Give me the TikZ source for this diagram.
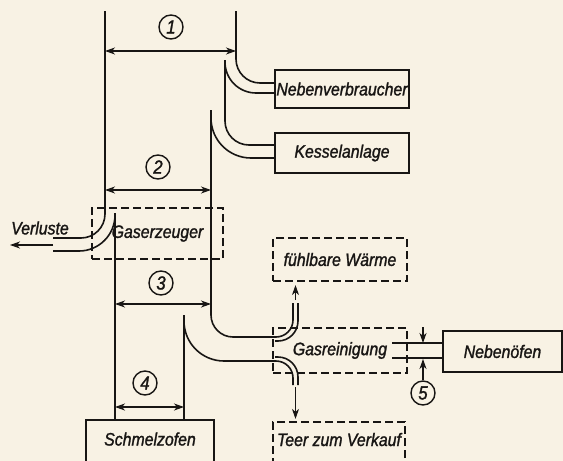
\documentclass[tikz,border=0pt]{standalone}
\usepackage{fontspec}
\setmainfont{Liberation Sans}[FakeStretch=0.88,FakeBold=1.4]
\usetikzlibrary{arrows.meta,positioning,calc}
\definecolor{paper}{RGB}{248,242,228}
\definecolor{ink}{RGB}{24,22,20}

\begin{document}
\begin{tikzpicture}[
    x=1pt, y=-1pt,
    lbl/.style={font=\itshape\fontsize{18}{18}\selectfont, text=ink},
    plantbox/.style={lbl, rectangle, draw=ink, line width=2.2pt, minimum width=134pt,
                 minimum height=40pt, inner sep=0pt},
    dashbox/.style={plantbox, dash pattern=on 8pt off 4pt},
    flowline/.style={draw=ink, line width=1.6pt},
    dimarr/.style={draw=ink, line width=1.1pt, {Stealth[length=10pt,width=7pt,inset=3pt]}-{Stealth[length=10pt,width=7pt,inset=3pt]}},
    outarr/.style={draw=ink, line width=1.1pt, -{Stealth[length=10pt,width=7pt,inset=3pt]}},
    numcirc/.style={circle, draw=ink, line width=1.4pt, minimum size=24pt, inner sep=0pt,
                 font=\itshape\fontsize{19}{19}\selectfont, text=ink}
]
\useasboundingbox (0,0) rectangle (563,461);
\clip (0,0) rectangle (563,461);
\fill[paper] (0,0) rectangle (563,461);

% plants
\node[plantbox, minimum height=38pt] (verbr) at (342,89) {Nebenverbraucher};
\node[plantbox] (kessel) at (342,153) {Kesselanlage};
\node[dashbox, minimum width=131pt, minimum height=51pt] (gaserz) at (157.5,233.5) {Gaserzeuger};
\node[dashbox, minimum height=43pt] (waerme) at (340,259.5) {fühlbare Wärme};
\node[dashbox, minimum height=45pt] (reinig) at (340,350.5) {Gasreinigung};
\node[plantbox, minimum width=119pt, minimum height=41pt] (neben) at (502.5,351.5) {Nebenöfen};
\node[dashbox, minimum width=132pt, minimum height=48pt, text height=12pt, text depth=12pt] (teer) at (339,446) {Teer zum Verkauf};
\node[plantbox, minimum width=128pt, minimum height=48pt, text height=12pt, text depth=9pt] (ofen) at (150,444) {Schmelzofen};
\node[lbl] (verl) at (40,228) {Verluste};

% pipe ends
\coordinate (topL) at (105,11);
\coordinate (topR) at (236,11);
\coordinate (splitA) at (225,60);
\coordinate (splitB) at (211,110);
\coordinate (splitC) at (184,315);
\coordinate (innerL) at (115,213);
\coordinate (lossA) at (53,238);
\coordinate (lossB) at (53,251);
\coordinate (upout) at (295.5,300);
\coordinate (downout) at (295.5,387);

% gas streams
\draw[flowline, rounded corners=24pt] (topL) -- (105,238) -- (lossA);
\draw[flowline, rounded corners=36pt] (innerL) -- (115,251) -- (lossB);
\draw[flowline] (innerL) -- (innerL |- ofen.north);
\draw[flowline, rounded corners=24pt] (topR) -- (236,83) -- ([yshift=6pt]verbr.west);
\draw[flowline, rounded corners=31pt] (splitA) -- (225,93) -- ([yshift=-4pt]verbr.west);
\draw[flowline, rounded corners=24pt] (splitA) -- (225,145) -- ([yshift=8pt]kessel.west);
\draw[flowline, rounded corners=40pt] (splitB) -- (211,158) -- ([yshift=-5pt]kessel.west);
\draw[flowline, rounded corners=22pt] (splitB) -- (211,337) -- ([yshift=13.5pt]reinig.west);
\draw[flowline, rounded corners=40pt] (splitC) -- (184,361) -- ([yshift=-10.5pt]reinig.west);
\draw[flowline] (splitC) -- (splitC |- ofen.north);

% branches inside Gasreinigung
\draw[flowline, rounded corners=17pt] ([yshift=13.5pt]reinig.west) -- (293,337) -- (293,303);
\draw[flowline, rounded corners=20pt] (275,341) -- (298,341) -- (298,303);
\draw[flowline, rounded corners=17pt] ([yshift=-10.5pt]reinig.west) -- (293,361) -- (293,385);
\draw[flowline, rounded corners=20pt] (275,357) -- (298,357) -- (298,385);
\draw[outarr] (upout) -- ([yshift=-3pt]upout |- waerme.south);
\draw[outarr] (downout) -- ([yshift=2pt]downout |- teer.north);
\draw[flowline] (392,343) -- ([yshift=8.5pt]neben.west);
\draw[flowline] (392,358) -- ([yshift=-6.5pt]neben.west);
\draw[outarr] (lossA |- 0,245) -- (10,245);

% stream widths
\node[numcirc] (n1) at (171,27) {1};
\node[numcirc] (n2) at (158,167) {2};
\node[numcirc] (n3) at (161,283) {3};
\node[numcirc] (n4) at (145,383) {4};
\node[numcirc] (n5) at (423,393) {5};
\draw[dimarr] (105,51) -- (236,51);
\draw[dimarr] (105,190) -- (211,190);
\draw[dimarr] (115,304) -- (211,304);
\draw[dimarr] (115,407) -- (184,407);
\draw[outarr] (423,327) -- (423,343);
\draw[outarr] (n5.north) -- (423,359);
\end{tikzpicture}
\end{document}
